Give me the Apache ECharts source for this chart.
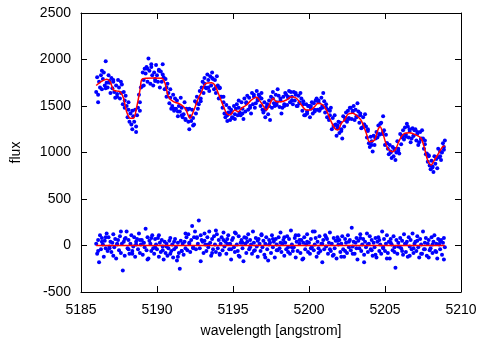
<!DOCTYPE html>
<html>
<head>
<meta charset="utf-8">
<script src="https://cdn.jsdelivr.net/npm/echarts@6/dist/echarts.min.js"></script>
<style>
html,body{margin:0;padding:0;background:#fff;}
#chart{width:488px;height:340px;}
</style>
</head>
<body>
<div id="chart"></div>
<script>
// Wavelength grids of the observed samples
const waveStart = 5186.0;
const waveStep = 0.0625;
const waveStartB = 5186.125;
const waveStepB = 0.25;

const fluxData = [
1650,1810,1540,1760, 1700,1830,1680,1790, 1860,1720,1980,1750, 1700,1830,1770,1640,
1800,1690,1760,1650, 1590,1720,1630,1780, 1700,1580,1640,1730, 1520,1650,1480,1610,
1500,1380,1460,1330, 1420,1300,1250,1390, 1330,1460,1220,1400, 1480,1620,1540,1700,
1710,1860,1780,1900, 1850,1920,1760,2010, 1880,1740,1950,1830, 1720,1860,1790,1940,
1830,1760,1890,1700, 1870,1760,1950,1810, 1680,1790,1600,1740, 1640,1530,1590,1470,
1500,1620,1450,1580, 1470,1560,1390,1500, 1440,1590,1480,1380, 1410,1540,1350,1470,
1460,1330,1250,1390, 1340,1460,1370,1300, 1550,1420,1600,1470, 1520,1660,1580,1700,
1760,1640,1800,1700, 1690,1840,1780,1660, 1820,1720,1860,1790, 1680,1780,1640,1820,
1720,1580,1690,1600, 1600,1480,1540,1420, 1380,1510,1340,1430, 1480,1350,1430,1380,
1370,1500,1410,1470, 1520,1400,1560,1430, 1400,1540,1470,1360, 1580,1440,1530,1610,
1460,1590,1500,1420, 1640,1520,1600,1480, 1530,1660,1570,1620, 1600,1500,1640,1460,
1430,1540,1380,1490, 1520,1410,1560,1350, 1600,1480,1650,1530, 1500,1620,1540,1680,
1610,1490,1560,1420, 1480,1600,1520,1640, 1620,1510,1590,1660, 1540,1650,1600,1520,
1650,1560,1620,1500, 1500,1610,1540,1640, 1580,1450,1520,1400, 1400,1520,1440,1500,
1500,1380,1470,1540, 1420,1530,1460,1560, 1580,1460,1540,1450, 1470,1590,1500,1640,
1550,1430,1480,1380, 1460,1350,1400,1480, 1250,1370,1290,1400, 1300,1180,1260,1330,
1210,1320,1250,1150, 1390,1280,1350,1430, 1330,1450,1370,1480, 1480,1360,1440,1500,
1350,1460,1390,1530, 1440,1320,1400,1260, 1270,1380,1300,1410, 1280,1160,1230,1100,
1060,1170,1120,1010, 1180,1080,1150,1220, 1160,1290,1200,1310, 1320,1200,1390,1240,
1080,1190,1100,1040, 980,1080,1010,940, 1060,960,1030,920, 1000,1120,1040,990,
1200,1090,1160,1240, 1140,1270,1190,1310, 1280,1160,1230,1110, 1150,1260,1180,1240,
1250,1130,1200,1080, 1110,1220,1150,1240, 1150,1040,1090,980, 990,900,960,860,
820,910,850,790, 960,880,930,830, 1040,950,1010,920, 1000,1100,1060,1130
];

const fluxDataB = [
1620,1880,1690,1750, 1780,1600,1760,1560, 1540,1450,1280,1450, 1720,1900,1920,1770,
1880,1840,1700,1680, 1470,1440,1400,1360, 1470,1290,1530,1550, 1740,1700,1800,1700,
1700,1600,1400,1460, 1360,1480,1420,1540, 1480,1620,1560,1580, 1460,1500,1580,1510,
1580,1500,1600,1560, 1640,1530,1550,1420, 1500,1440,1560,1480, 1520,1450,1280,1290,
1230,1370,1360,1450, 1380,1420,1300,1250, 1080,1160,1190,1220, 1100,1000,1040,1020,
1180,1170,1250,1180, 1220,1140,1130,970, 840,950,960,1030
];

const residData = [
20,-90,60,-180,110,-40,80,10,-120,50,-30,130,-60,90,-10,40,
-70,30,120,-20,70,-140,10,60,-50,100,-80,20,-270,40,-110,80,
150,-30,60,-90,20,110,-60,-10,90,-120,40,70,-40,130,-80,10,
60,-100,30,-20,180,-50,90,-140,50,20,-60,110,-30,-90,70,10,
-40,80,-120,30,-70,60,-10,-150,40,-80,20,-110,-30,50,-90,-60,
10,-130,-40,70,-20,-160,30,-80,-250,50,-60,20,-100,40,-30,90,
-50,120,30,-70,60,210,-20,90,150,-40,80,20,270,-30,110,60,
40,-80,130,10,-60,90,-20,150,30,-110,70,-40,100,10,-70,120,
-30,60,-100,20,90,-50,140,-10,40,-90,70,110,-40,20,-150,60,
80,-20,-70,130,10,-60,100,-120,30,60,-30,-170,90,20,-80,40,
120,-40,60,10,-90,150,30,-50,80,-10,-120,70,20,-60,110,-20,
50,-100,20,90,-40,-160,60,30,-80,110,-20,40,-130,70,10,-50,
90,-30,140,-70,20,60,-110,30,-40,100,-20,70,-90,160,10,-60,
-20,80,-130,40,-60,110,20,-80,60,-150,30,90,-40,10,120,-70,
30,-90,70,-20,150,-50,10,80,-120,40,-30,100,-60,20,-180,60,
-40,110,-10,70,-90,30,140,-60,20,-110,80,-30,50,-140,90,10,
60,-70,20,100,-40,-120,70,30,-80,110,-20,60,-50,190,-10,40,
-90,30,80,-150,50,-30,120,-60,10,70,-100,40,-20,130,-70,20,
100,-40,60,-110,30,-20,80,-130,40,90,-60,10,-90,150,-30,70,
-60,20,110,-80,40,-140,70,10,-50,100,-20,-240,60,-90,30,-10,
80,-30,50,-100,120,20,-70,40,-120,90,-10,60,-40,130,-80,20,
40,-60,100,-20,-130,70,10,-90,150,-40,30,80,-110,20,60,-50,
-30,90,-80,40,110,-60,20,-140,70,10,-40,60,-100,30,80,-20
];

// Residuals, set B
const residDataB = [
-60,40,90,-30,-110,20,150,70,-40,-90,10,60,30,-150,80,-20,
110,-50,-10,80,40,-120,-60,130,20,-30,90,-170,50,10,-80,160,
-90,60,20,-40,140,-110,30,80,-20,-60,50,120,-130,10,70,-50,
30,90,-70,-20,110,60,-140,40,-30,150,-80,20,90,-40,-100,50,
-120,-60,40,-90,-30,80,-180,10,-50,-100,60,-20,-140,30,-70,-10,
-60,20,-110,-30,50,-90,-40,-130,10,-70,40,-150
];

// Model fit (red curve)
const modelWave = [
5186.0,5186.3,5186.7,5186.92,5187.14,5187.4,5187.58,5187.8,5188.0,5188.24,
5188.45,5188.67,5188.9,5189.0,5189.33,5189.8,5190.3,5190.53,5190.75,5191.08,
5191.4,5191.7,5191.9,5192.17,5192.39,5192.72,5192.94,5193.16,5193.6,5193.8,
5194.03,5194.25,5194.58,5194.8,5195.12,5195.34,5195.56,5195.89,5196.22,5196.55,
5196.88,5197.2,5197.45,5197.64,5197.86,5198.19,5198.52,5198.85,5199.17,5199.5,
5199.83,5200.05,5200.37,5200.59,5200.92,5201.14,5201.36,5201.69,5201.9,5202.13,
5202.34,5202.56,5202.89,5203.22,5203.45,5203.77,5203.98,5204.31,5204.53,5204.68,
5204.86,5205.18,5205.51,5205.73,5205.95,5206.28,5206.6,5207.05,5207.37,5207.6,
5207.8,5208.03,5208.25,5208.46,5208.79,5208.94
];
const modelFlux = [
1720,1760,1787,1761,1672,1660,1654,1583,1439,1368,
1368,1493,1690,1787,1798,1800,1798,1744,1600,1546,
1529,1500,1460,1368,1439,1583,1654,1737,1751,1726,
1637,1546,1421,1403,1457,1439,1475,1511,1565,1593,
1529,1457,1530,1583,1546,1546,1565,1600,1583,1511,
1457,1457,1493,1529,1511,1457,1368,1260,1242,1314,
1350,1411,1421,1385,1340,1206,1116,1134,1242,1277,
1206,1045,1009,1045,1134,1206,1213,1188,1153,1045,
919,866,919,973,1062,1070
];

// Residual model (zero line)
const residModelWave = [5186.0, 5208.94];
const residModelFlux = [0, 0];

// Axis ticks
const xMin = 5185, xMax = 5210, xStep = 5;
const yMin = -500, yMax = 2500, yStep = 500;

const toPts = (arr, start, step) => arr.map((v, i) => [start + i * step, v]);
const fluxPts = toPts(fluxData, waveStart, waveStep).concat(toPts(fluxDataB, waveStartB, waveStepB));
const residPts = toPts(residData, waveStart, waveStep).concat(toPts(residDataB, waveStartB, waveStepB));
const modelPts = modelWave.map((w, i) => [w, modelFlux[i]]);
const residModelPts = residModelWave.map((w, i) => [w, residModelFlux[i]]);

const font = 'Liberation Sans, Arial, sans-serif';
const fs = 14;
const lineBlack = {color: '#000', width: 1};
const plain = v => String(v);

const chart = echarts.init(document.getElementById('chart'), null, {renderer: 'canvas'});
chart.setOption({
  animation: false,
  backgroundColor: '#fff',
  grid: {left: 81, right: 27, top: 13, bottom: 48, containLabel: false, outerBoundsMode: 'none'},
  xAxis: [
    {
      type: 'value', min: xMin, max: xMax, interval: xStep, position: 'bottom',
      axisLine: {show: true, onZero: false, lineStyle: lineBlack},
      axisTick: {show: true, inside: true, length: 6, lineStyle: lineBlack},
      axisLabel: {color: '#000', fontSize: fs, fontFamily: font, margin: 11, formatter: plain},
      splitLine: {show: false},
      name: 'wavelength [angstrom]', nameLocation: 'middle', nameGap: 32,
      nameTextStyle: {color: '#000', fontSize: fs, fontFamily: font}
    },
    {
      type: 'value', min: xMin, max: xMax, interval: xStep, position: 'top',
      axisLine: {show: true, onZero: false, lineStyle: lineBlack},
      axisTick: {show: true, inside: true, length: 6, lineStyle: lineBlack},
      axisLabel: {show: false}, splitLine: {show: false}
    }
  ],
  yAxis: [
    {
      type: 'value', min: yMin, max: yMax, interval: yStep, position: 'left',
      axisLine: {show: true, onZero: false, lineStyle: lineBlack},
      axisTick: {show: true, inside: true, length: 6, lineStyle: lineBlack},
      axisLabel: {color: '#000', fontSize: fs, fontFamily: font, margin: 10, formatter: plain},
      splitLine: {show: false},
      name: 'flux', nameLocation: 'middle', nameGap: 58,
      nameTextStyle: {color: '#000', fontSize: fs, fontFamily: font}
    },
    {
      type: 'value', min: yMin, max: yMax, interval: yStep, position: 'right',
      axisLine: {show: true, onZero: false, lineStyle: lineBlack},
      axisTick: {show: true, inside: true, length: 6, lineStyle: lineBlack},
      axisLabel: {show: false}, splitLine: {show: false}
    }
  ],
  series: [
    {
      type: 'scatter', data: fluxPts, symbol: 'circle', symbolSize: 4,
      itemStyle: {color: '#0000ff', opacity: 1}, z: 2
    },
    {
      type: 'scatter', data: residPts, symbol: 'circle', symbolSize: 4,
      itemStyle: {color: '#0000ff', opacity: 1}, z: 2
    },
    {
      type: 'line', data: modelPts, smooth: 0.3, showSymbol: false,
      lineStyle: {color: '#ff0000', width: 1.5}, z: 3
    },
    {
      type: 'line', data: residModelPts, showSymbol: false,
      lineStyle: {color: '#ff0000', width: 1.5}, z: 3
    }
  ]
});
</script>
</body>
</html>
